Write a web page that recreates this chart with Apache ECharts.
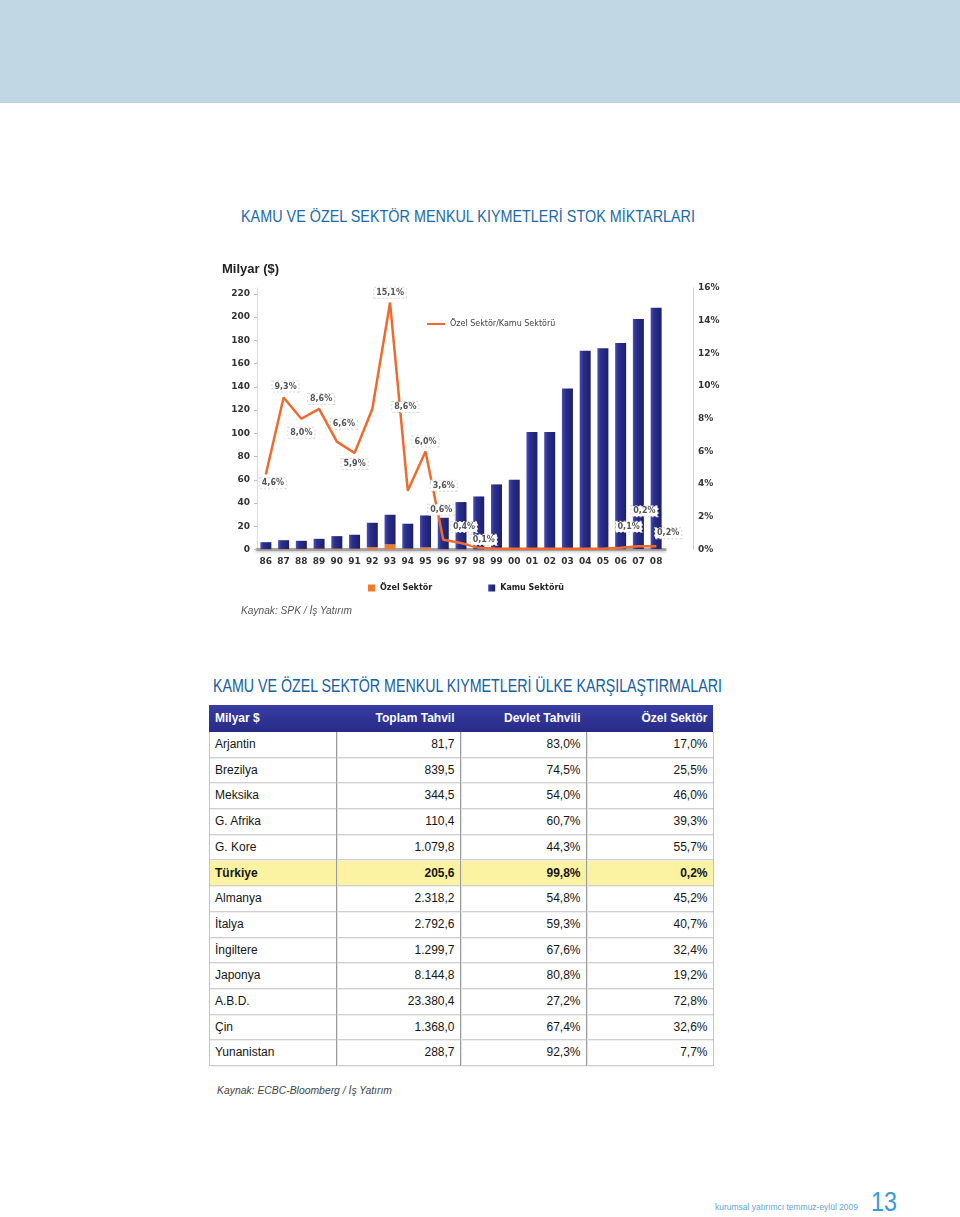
<!DOCTYPE html>
<html><head><meta charset="utf-8">
<script src="https://cdn.jsdelivr.net/npm/echarts@6/dist/echarts.min.js"></script>
<style>
html,body{margin:0;padding:0;background:#fff;}
body{width:960px;height:1217px;position:relative;overflow:hidden;font-family:'Liberation Sans',Arial,sans-serif;}
.band{position:absolute;left:0;top:0;width:960px;height:102px;background:#c1d8e4;border-bottom:1px solid #b9d0dd;}
.t{position:absolute;white-space:nowrap;transform-origin:0 50%;}
#chart{position:absolute;left:0;top:250px;width:960px;height:380px;}
.hdr{position:absolute;left:209px;top:705px;width:504px;height:27px;background:linear-gradient(#383da6,#272b86);}
.cell{position:absolute;white-space:nowrap;font-size:12px;color:#151515;}
.row{position:absolute;left:209px;width:504px;border-bottom:1px solid #cfcfcf;box-shadow:0 1px 0 #eeeeee;}
.vl{position:absolute;width:1px;}
</style></head>
<body>
<div class="band"></div>
<div class="t" id="title1" style="left:241px;top:207px;font-size:17px;line-height:20px;color:#1a6aab;">KAMU VE ÖZEL SEKTÖR MENKUL KIYMETLERİ STOK MİKTARLARI</div>
<div id="chart"></div>
<div class="t" id="src1" style="left:241px;top:603px;font-size:11px;line-height:14px;color:#555;font-style:italic;">Kaynak: SPK / İş Yatırım</div>
<div class="t" id="title2" style="left:213px;top:675px;font-size:19px;line-height:22px;color:#15609f;">KAMU VE ÖZEL SEKTÖR MENKUL KIYMETLERİ ÜLKE KARŞILAŞTIRMALARI</div>
<div id="tbl"></div>
<div class="t" id="src2" style="left:217px;top:1083px;font-size:11.5px;line-height:14px;color:#444;font-style:italic;">Kaynak: ECBC-Bloomberg / İş Yatırım</div>
<div class="t" id="foot" style="left:715px;top:1201px;font-size:9.5px;line-height:12px;color:#5fa8d3;">kurumsal yatırımcı temmuz-eylül 2009</div>
<div class="t" id="pg" style="left:871px;top:1187px;font-size:28px;line-height:30px;color:#3a9ad6;">13</div>
<script>
// ---------- Chart data ----------
const years = ['86','87','88','89','90','91','92','93','94','95','96','97','98','99','00','01','02','03','04','05','06','07','08'];
const kamuSektoru = [6.0, 7.6, 7.0, 8.5, 10.7, 12.0, 21.0, 25.5, 21.4, 27.5, 27.0, 40.6, 45.6, 56.0, 60.0, 101.0, 101.0, 138.5, 171.0, 173.0, 177.5, 198.0, 207.5];
const ozelSektor = [0.3, 0.4, 0.5, 0.7, 0.8, 0.7, 2.0, 4.4, 0.8, 1.8, 0.3, 0.2, 0.05, 0.03, 0.03, 0.05, 0.05, 0.1, 0.1, 0.1, 0.2, 0.4, 0.4];
const ozelKamuOrani = [4.6, 9.3, 8.0, 8.6, 6.6, 5.9, 8.6, 15.1, 3.6, 6.0, 0.6, 0.4, 0.1, 0.05, 0.05, 0.05, 0.05, 0.05, 0.05, 0.05, 0.1, 0.2, 0.2];
const leftAxisTicks = ['0','20','40','60','80','100','120','140','160','180','200','220'];
const rightAxisTicks = ['0%','2%','4%','6%','8%','10%','12%','14%','16%'];

// ---------- Table data ----------
const tableHeader = ['Milyar $','Toplam Tahvil','Devlet Tahvili','Özel Sektör'];
const countries = ['Arjantin','Brezilya','Meksika','G. Afrika','G. Kore','Türkiye','Almanya','İtalya','İngiltere','Japonya','A.B.D.','Çin','Yunanistan'];
const toplamTahvil = [81.7, 839.5, 344.5, 110.4, 1079.8, 205.6, 2318.2, 2792.6, 1299.7, 8144.8, 23380.4, 1368.0, 288.7];
const devletTahvili = [83.0, 74.5, 54.0, 60.7, 44.3, 99.8, 54.8, 59.3, 67.6, 80.8, 27.2, 67.4, 92.3];
const ozelSektorPay = [17.0, 25.5, 46.0, 39.3, 55.7, 0.2, 45.2, 40.7, 32.4, 19.2, 72.8, 32.6, 7.7];
const highlightCountry = 'Türkiye';

// label placement (style, not data): offset of each ratio label from its point
const ratioLabelOffsets = {
  '86':[7,9],'87':[2,-11],'88':[0,14],'89':[2,-10],'90':[7,-18],'91':[0,11],'92':[33,-2],
  '93':[0,-10],'94':[36,-5],'95':[0,-10],'96':[-2,-30],'97':[3,-16],'98':[5,-8],
  '06':[8,-21],'07':[6,-35],'08':[12,-13]
};

function trNum(v){
  const parts = v.toFixed(1).split('.');
  parts[0] = parts[0].replace(/\B(?=(\d{3})+(?!\d))/g,'.');
  return parts[0] + ',' + parts[1];
}

const chart = echarts.init(document.getElementById('chart'));
const navy = new echarts.graphic.LinearGradient(0,0,1,0,[
  {offset:0,color:'#4a50b4'},{offset:0.3,color:'#2b2f8e'},{offset:1,color:'#1c1f68'}]);
const axisFont = {fontFamily:'DejaVu Sans',fontWeight:'bold',fontSize:9,color:'#333'};

chart.setOption({
  animation:false,
  title:{text:'Milyar ($)',left:222,top:13,padding:0,textStyle:{fontFamily:'Liberation Sans',fontWeight:'bold',fontSize:13,color:'#222'}},
  legend:[
    {data:['Özel Sektör/Kamu Sektörü'],left:427,top:70,padding:0,icon:'rect',itemWidth:18,itemHeight:2,
     textStyle:{fontFamily:'DejaVu Sans',fontSize:8,color:'#444'}},
    {data:['Özel Sektör','Kamu Sektörü'],left:368,top:334,padding:0,icon:'rect',itemWidth:7,itemHeight:7,itemGap:56,
     textStyle:{fontFamily:'DejaVu Sans',fontWeight:'bold',fontSize:8,color:'#222'}}
  ],
  grid:{left:257,top:38,width:408,height:261.5,containLabel:false},
  xAxis:{type:'category',data:years,
    axisLine:{lineStyle:{color:'#a3a3a3',width:3,shadowColor:'rgba(0,0,0,0.25)',shadowBlur:3,shadowOffsetY:1}},
    axisTick:{show:false},axisLabel:Object.assign({margin:8},axisFont)},
  yAxis:[
    {type:'value',min:0,max:225,interval:20,
     axisLine:{show:true,lineStyle:{color:'#dcdcdc'}},
     axisTick:{show:true,length:3,lineStyle:{color:'#bbb'}},
     splitLine:{show:false},
     axisLabel:Object.assign({margin:7,showMaxLabel:false,formatter:v=>leftAxisTicks.indexOf(String(v))>=0?String(v):''},axisFont)},
    {type:'value',min:0,max:16,interval:2,position:'right',offset:28,
     axisLine:{show:true,lineStyle:{color:'#cfcfcf'}},axisTick:{show:false},splitLine:{show:false},
     axisLabel:Object.assign({margin:5,formatter:v=>rightAxisTicks[v/2]},axisFont)}
  ],
  series:[
    {name:'Özel Sektör',type:'bar',stack:'s',barWidth:11,data:ozelSektor,itemStyle:{color:'#f07a2a'}},
    {name:'Kamu Sektörü',type:'bar',stack:'s',barWidth:11,data:kamuSektoru,itemStyle:{color:navy}},
    {name:'Özel Sektör/Kamu Sektörü',type:'line',yAxisIndex:1,z:5,symbol:'circle',symbolSize:1,
     lineStyle:{color:'#ef6b2d',width:2.5},itemStyle:{color:'#ef6b2d'},
     data:ozelKamuOrani.map((v,i)=>{
       const off = ratioLabelOffsets[years[i]];
       return {value:v,label:off?{show:true,position:'inside',offset:off}:{show:false}};
     }),
     label:{formatter:p=>trNum(p.value)+'%',fontFamily:'DejaVu Sans',fontWeight:'bold',fontSize:8,color:'#555',
       backgroundColor:'#fff',padding:[1,2],borderColor:'#d6d6d6',borderWidth:1,borderType:'dotted'}}
  ]
});

// ---------- Table (HTML) ----------
const tbl = document.getElementById('tbl');
const colEdges = [209,336,460,586,713];
const headTop = 705, rowTop = 732, rowH = 25.7;
function addCell(parent, text, colIdx, top, h, opts){
  const d = document.createElement('div');
  d.className='cell';
  d.textContent=text;
  d.style.top = top+'px';
  d.style.height = h+'px';
  d.style.lineHeight = h+'px';
  if(colIdx===0){ d.style.left=(colEdges[0]+6)+'px'; }
  else { d.style.right=(960-colEdges[colIdx+1]+5.5)+'px'; }
  if(opts) Object.assign(d.style, opts);
  parent.appendChild(d);
}
const hdr = document.createElement('div'); hdr.className='hdr'; tbl.appendChild(hdr);
tableHeader.forEach((h,i)=>addCell(tbl,h,i,headTop,27,{color:'#fff',fontWeight:'bold'}));
countries.forEach((c,r)=>{
  const top = rowTop + r*rowH;
  const row = document.createElement('div'); row.className='row';
  row.style.top = top+'px'; row.style.height=(rowH-1)+'px';
  const hi = c===highlightCountry;
  if(hi) row.style.background='#fbf3a2';
  tbl.appendChild(row);
  const o = hi?{fontWeight:'bold'}:null;
  addCell(tbl,c,0,top,rowH,o);
  addCell(tbl,trNum(toplamTahvil[r]),1,top,rowH,o);
  addCell(tbl,trNum(devletTahvili[r])+'%',2,top,rowH,o);
  addCell(tbl,trNum(ozelSektorPay[r])+'%',3,top,rowH,o);
});
const tblBottom = rowTop + countries.length*rowH;
colEdges.forEach((x,i)=>{
  const v = document.createElement('div'); v.className='vl';
  v.style.left=x+'px'; v.style.top=rowTop+'px'; v.style.height=(tblBottom-rowTop)+'px';
  v.style.background = (i===0||i===colEdges.length-1)?'#c4c4c4':'#9c9c9c';
  if(i>0 && i<colEdges.length-1) v.style.boxShadow='1px 0 0 #e2e2e2';
  tbl.appendChild(v);
});

// ---------- fit condensed text widths ----------
function fit(id, w){
  const el = document.getElementById(id);
  const cw = el.getBoundingClientRect().width;
  el.style.transform = 'scaleX(' + (w/cw) + ')';
}
fit('title1',454); fit('title2',509); fit('src1',111); fit('src2',175); fit('foot',143); fit('pg',26);
</script>
</body></html>
